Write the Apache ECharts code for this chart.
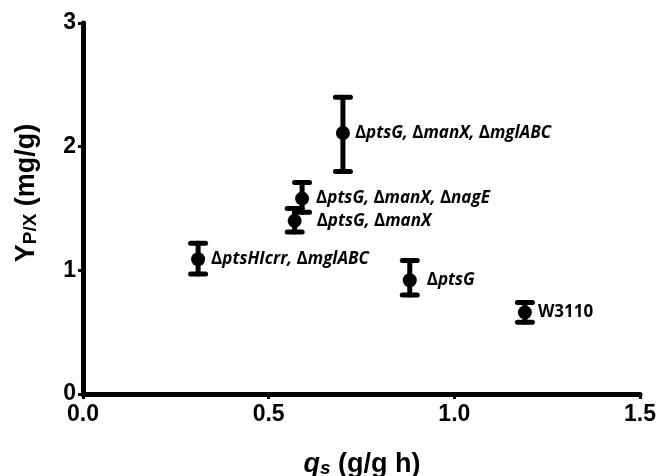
<!DOCTYPE html>
<html>
<head>
<meta charset="utf-8">
<script src="https://cdn.jsdelivr.net/npm/echarts@6/dist/echarts.min.js"></script>
<style>
  html, body { margin: 0; padding: 0; background: #fff; }
  #chart { width: 661px; height: 476px; }
</style>
</head>
<body>
<div id="chart"></div>
<script>
// Strains and their measured specific uptake rate / product yield (mean with error range)
const strains = ['ΔptsHIcrr, ΔmglABC', 'ΔptsG, ΔmanX, ΔmglABC', 'ΔptsG, ΔmanX, ΔnagE', 'ΔptsG, ΔmanX', 'ΔptsG', 'W3110'];
const qs = [0.31, 0.70, 0.59, 0.57, 0.88, 1.19];
const ypx = [1.09, 2.11, 1.58, 1.40, 0.92, 0.66];
const ypxLow = [0.97, 1.80, 1.47, 1.31, 0.80, 0.58];
const ypxHigh = [1.22, 2.40, 1.71, 1.50, 1.08, 0.74];
const xTickLabels = ['0.0', '0.5', '1.0', '1.5'];
const yTickLabels = ['0', '1', '2', '3'];

// gap between marker and its strain label, per point
const labelGaps = [6, 5, 7, 15, 10, 6];

const AXIS_FONT = '"Liberation Sans", Arial, sans-serif';
const LABEL_FONT = '"Open Sans", sans-serif';

// gene deletions (after Δ) are italic, plain strain names upright
function richName(name) {
  if (name.indexOf('Δ') < 0) return '{n|' + name + '}';
  return name.split('Δ').map(function (seg, i) {
    const body = seg ? '{i|' + seg + '}' : '';
    return i === 0 ? body : '{d|Δ}' + body;
  }).join('');
}

const labelRich = {
  i: { fontFamily: LABEL_FONT, fontSize: 17, fontWeight: 'bold', fontStyle: 'italic', color: '#000' },
  d: { fontFamily: LABEL_FONT, fontSize: 17, fontWeight: 'bold', color: '#000' },
  n: { fontFamily: LABEL_FONT, fontSize: 17, fontWeight: 'bold', color: '#000' }
};

const axisCommon = {
  type: 'value',
  splitLine: { show: false },
  axisLine: { show: true, onZero: false, lineStyle: { color: '#000', width: 5, cap: 'round' } },
  axisTick: { show: true, length: 5, lineStyle: { color: '#000', width: 3 } },
};

const chart = echarts.init(document.getElementById('chart'), null, { renderer: 'canvas' });

chart.setOption({
  animation: false,
  backgroundColor: '#fff',
  grid: { left: 83, right: 21, top: 23, bottom: 82, containLabel: false },
  xAxis: Object.assign({}, axisCommon, {
    min: 0, max: 1.5, interval: 0.5,
    axisLabel: {
      fontFamily: AXIS_FONT, fontSize: 23, fontWeight: 'bold', color: '#000', margin: 9,
      formatter: function (v) { return xTickLabels[Math.round(v / 0.5)]; }
    }
  }),
  yAxis: Object.assign({}, axisCommon, {
    min: 0, max: 3, interval: 1,
    axisLabel: {
      fontFamily: AXIS_FONT, fontSize: 23, fontWeight: 'bold', color: '#000', margin: 7,
      formatter: function (v) { return yTickLabels[Math.round(v)]; }
    }
  }),
  series: [
    {
      type: 'custom',
      silent: true,
      z: 2,
      data: qs.map(function (x, i) { return [x, ypxLow[i], ypxHigh[i]]; }),
      encode: { x: 0, y: [1, 2] },
      renderItem: function (params, api) {
        const x = api.value(0);
        const lo = api.coord([x, api.value(1)]);
        const hi = api.coord([x, api.value(2)]);
        const hw = 7.5;
        const st = { stroke: '#000', lineWidth: 5, lineCap: 'round', fill: null };
        return {
          type: 'group',
          children: [
            { type: 'line', shape: { x1: lo[0], y1: lo[1], x2: hi[0], y2: hi[1] }, style: st },
            { type: 'line', shape: { x1: hi[0] - hw, y1: hi[1], x2: hi[0] + hw, y2: hi[1] }, style: st },
            { type: 'line', shape: { x1: lo[0] - hw, y1: lo[1], x2: lo[0] + hw, y2: lo[1] }, style: st }
          ]
        };
      }
    },
    {
      type: 'scatter',
      z: 3,
      symbol: 'circle',
      symbolSize: 14,
      itemStyle: { color: '#000', opacity: 1 },
      data: qs.map(function (x, i) {
        return {
          value: [x, ypx[i]],
          label: {
            show: true,
            position: 'right',
            distance: labelGaps[i],
            color: '#000',
            formatter: richName(strains[i]),
            rich: labelRich
          }
        };
      })
    }
  ],
  graphic: [
    {
      type: 'text',
      x: 25, y: 193,
      rotation: Math.PI / 2,
      style: {
        text: '{a|Y}{s|P/X}{a| (mg/g)}',
        align: 'center',
        verticalAlign: 'middle',
        rich: {
          a: { fontFamily: AXIS_FONT, fontSize: 27, fontWeight: 'bold', fill: '#000', lineHeight: 30, verticalAlign: 'bottom' },
          s: { fontFamily: AXIS_FONT, fontSize: 19, fontWeight: 'bold', fill: '#000', lineHeight: 18, verticalAlign: 'bottom' }
        }
      }
    },
    {
      type: 'text',
      x: 362, y: 463,
      style: {
        text: '{q|q}{s|s}{a| (g/g h)}',
        align: 'center',
        verticalAlign: 'middle',
        rich: {
          q: { fontFamily: AXIS_FONT, fontSize: 27, fontWeight: 'bold', fontStyle: 'italic', fill: '#000', lineHeight: 30, verticalAlign: 'bottom' },
          s: { fontFamily: AXIS_FONT, fontSize: 19, fontWeight: 'bold', fontStyle: 'italic', fill: '#000', lineHeight: 18, verticalAlign: 'bottom' },
          a: { fontFamily: AXIS_FONT, fontSize: 27, fontWeight: 'bold', fill: '#000', lineHeight: 30, verticalAlign: 'bottom' }
        }
      }
    }
  ]
});
</script>
</body>
</html>
